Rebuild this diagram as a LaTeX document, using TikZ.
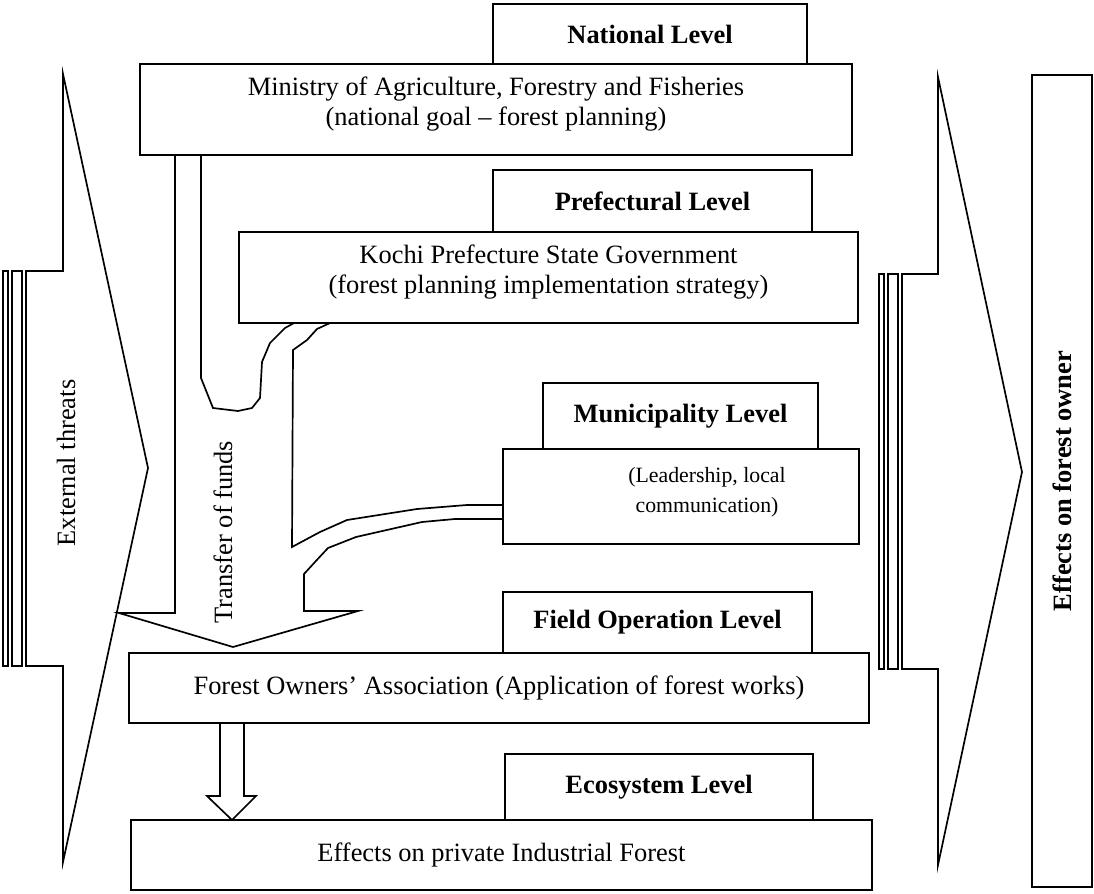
\documentclass[tikz,border=0pt]{standalone}
\usepackage{fontspec}
\setmainfont{Liberation Serif}
\usepackage{tikz}
\usetikzlibrary{positioning}

\newcommand{\lowstrut}{\rule[-12pt]{0pt}{0pt}}

\begin{document}
\begin{tikzpicture}[
    x=0.025cm, y=-0.025cm,
    line width=1.2pt,
    box/.style={
        rectangle, draw=black, line width=1.2pt, fill=white,
        inner sep=0pt, outer sep=0pt, align=center,
        font=\fontsize{18.8}{21.3}\selectfont
    },
    level/.style={
        box, font=\fontsize{18.8}{21.3}\selectfont\bfseries
    },
    txt/.style={
        align=center, font=\fontsize{18.8}{21.3}\selectfont
    },
    flow/.style={
        draw, line width=1.2pt, line join=miter
    }
]

\useasboundingbox (0,0) rectangle (1094,894);

% National level
\node[box, minimum width=17.8cm, minimum height=2.275cm] (ministry) at (496,109.5) {Ministry of Agriculture, Forestry and Fisheries\\(national goal – forest planning)\lowstrut};
\node[level, minimum width=7.85cm, minimum height=1.5cm, above right=0cm and 8.825cm of ministry.north west] (national) {National Level};

% Prefectural level
\node[box, minimum width=15.475cm, minimum height=2.275cm] (kochi) at (548.5,277.5) {Kochi Prefecture State Government\\(forest planning implementation strategy)\lowstrut};
\node[level, minimum width=7.975cm, minimum height=1.55cm, above right=0cm and 6.35cm of kochi.north west] (prefectural) {Prefectural Level};

% Municipality level
\node[box, minimum width=8.9cm, minimum height=2.375cm] (muni) at (681,496.5) {};
\node[txt, font=\fontsize{15.5}{21.3}\selectfont] (leadership) at (707,492) {(Leadership, local\\communication)};
\node[level, minimum width=6.875cm, minimum height=1.65cm, above right=0cm and 1cm of muni.north west] (municipality) {Municipality Level};

% Field operation level
\node[box, minimum width=18.5cm, minimum height=1.75cm] (owners) at (499,688) {Forest Owners’ Association (Application of forest works)};
\node[level, minimum width=7.725cm, minimum height=1.525cm, above right=0cm and 9.35cm of owners.north west] (field) {Field Operation Level};

% Ecosystem level
\node[box, minimum width=18.525cm, minimum height=1.75cm] (forest) at (501.5,855) {Effects on private Industrial Forest};
\node[level, minimum width=7.7cm, minimum height=1.65cm, above right=0cm and 9.35cm of forest.north west] (ecosystem) {Ecosystem Level};

% Right column
\node[level, rotate=90, minimum width=20.3cm, minimum height=1.5cm] (ownerfx) at (1062,481) {Effects on forest owner};

% Striped arrow on the left
\draw (3,271) rectangle (8,666);
\draw (12,271) rectangle (22,666);
\draw[flow] (26,271) -- (63,271) -- (63,74) -- (148,468) -- (63,862) -- (63,666) -- (26,666) -- cycle;
\node[txt, rotate=90] (threats) at (66,463) {External threats};

% Striped arrow on the right
\draw (879,274) rectangle (884,669);
\draw (888,274) rectangle (898,669);
\draw[flow] (902,274) -- (938,274) -- (938,77) -- (1022,472) -- (938,865) -- (938,669) -- (902,669) -- cycle;

% Transfer of funds
\draw[flow] (175,0 |- ministry.south) -- (175,613) -- (119,613) -- (233,647) -- (358,611) -- (304,611) -- (304,574)
    -- (315,562) -- (328,548) -- (356,537) -- (422,522) -- (455,519) -- (muni.west |- 0,519);
\draw[flow] (muni.west |- 0,505) -- (467,505) -- (417,509) -- (347,520) -- (320,532) -- (292,547)
    -- (293,350) -- (307,340) -- (317,329) -- (330,0 |- kochi.south);
\draw[flow] (294,0 |- kochi.south) -- (285,328) -- (270,343) -- (262,362) -- (260,398) -- (252,408)
    -- (238,411) -- (213,408) -- (201,378) -- (201,0 |- ministry.south);
\node[txt, rotate=90] (funds) at (223,532) {Transfer of funds};

% Down arrow
\draw[flow] (220,0 |- owners.south) -- (220,796) -- (207,796) -- (232,0 |- forest.north) -- (256,796) -- (244,796) -- (244,0 |- owners.south);

\end{tikzpicture}
\end{document}
